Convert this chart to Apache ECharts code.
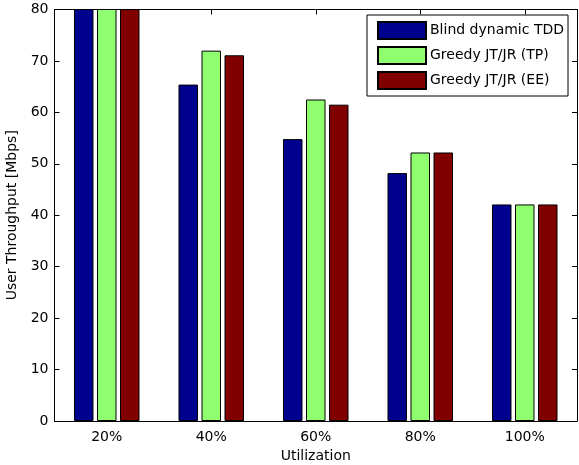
<!DOCTYPE html>
<html>
<head>
<meta charset="utf-8">
<script src="https://cdn.jsdelivr.net/npm/echarts@6/dist/echarts.min.js"></script>
<style>
  html, body { margin: 0; padding: 0; background: #fff; }
  #chart { width: 579px; height: 465px; }
</style>
</head>
<body>
<div id="chart"></div>
<script>
// Utilization levels on the x axis
const categories = ['20%', '40%', '60%', '80%', '100%'];

// User throughput [Mbps] per scheme (20% values run past the top of the axis)
const blindDynamicTDD = [88, 65.4, 54.8, 48.2, 42.1];
const greedyTP = [96, 72, 62.5, 52.2, 42.1];
const greedyEE = [96, 71.1, 61.5, 52.2, 42.1];

const seriesNames = ['Blind dynamic TDD', 'Greedy JT/JR (TP)', 'Greedy JT/JR (EE)'];
const seriesColors = ['#00008F', '#8FFF6F', '#800000'];
const seriesData = [blindDynamicTDD, greedyTP, greedyEE];

const yTicks = { min: 0, max: 80, interval: 10 };

const font = 'DejaVu Sans, sans-serif';
const fontSize = 14;
const chart = echarts.init(document.getElementById('chart'), null, { renderer: 'canvas' });

const baseXAxis = {
  type: 'category',
  data: categories,
  axisLine: { show: true, onZero: false, lineStyle: { color: '#000', width: 1 } },
  axisTick: { show: true, inside: true, alignWithLabel: true, length: 5, lineStyle: { color: '#000' } },
  splitLine: { show: false }
};

const baseYAxis = {
  type: 'value',
  min: yTicks.min,
  max: yTicks.max,
  interval: yTicks.interval,
  axisLine: { show: true, lineStyle: { color: '#000', width: 1 } },
  axisTick: { show: true, inside: true, length: 5, lineStyle: { color: '#000' } },
  splitLine: { show: false }
};

chart.setOption({
  animation: false,
  backgroundColor: '#fff',
  grid: { left: 54.5, right: 2, top: 9.5, bottom: 44, containLabel: false, outerBoundsMode: 'none' },
  legend: {
    data: seriesNames,
    orient: 'vertical',
    left: 367,
    top: 15,
    padding: [6, 4, 6, 10],
    itemWidth: 48,
    itemHeight: 17,
    itemGap: 6,
    backgroundColor: '#fff',
    borderColor: '#000',
    borderWidth: 1,
    borderRadius: 0,
    icon: 'rect',
    textStyle: { fontFamily: font, fontSize: fontSize, color: '#000', padding: [0, 0, 0, -1] }
  },
  xAxis: [
    Object.assign({}, baseXAxis, {
      position: 'bottom',
      name: 'Utilization',
      nameLocation: 'middle',
      nameGap: 27,
      nameTextStyle: { fontFamily: font, fontSize: fontSize, color: '#000' },
      axisLabel: { show: true, margin: 9, fontFamily: font, fontSize: fontSize, color: '#000' }
    }),
    Object.assign({}, baseXAxis, {
      position: 'top',
      axisLabel: { show: false }
    })
  ],
  yAxis: [
    Object.assign({}, baseYAxis, {
      position: 'left',
      name: 'User Throughput [Mbps]',
      nameLocation: 'middle',
      nameGap: 33,
      nameTextStyle: { fontFamily: font, fontSize: fontSize, color: '#000' },
      axisLabel: { show: true, margin: 6, fontFamily: font, fontSize: fontSize, color: '#000' }
    }),
    Object.assign({}, baseYAxis, {
      position: 'right',
      axisLabel: { show: false }
    })
  ],
  series: seriesNames.map((name, i) => ({
    name: name,
    type: 'bar',
    xAxisIndex: 0,
    yAxisIndex: 0,
    data: seriesData[i],
    barWidth: 19.5,
    barGap: '18%',
    clip: true,
    itemStyle: { color: seriesColors[i], borderColor: '#000', borderWidth: 1 }
  }))
});
</script>
</body>
</html>
